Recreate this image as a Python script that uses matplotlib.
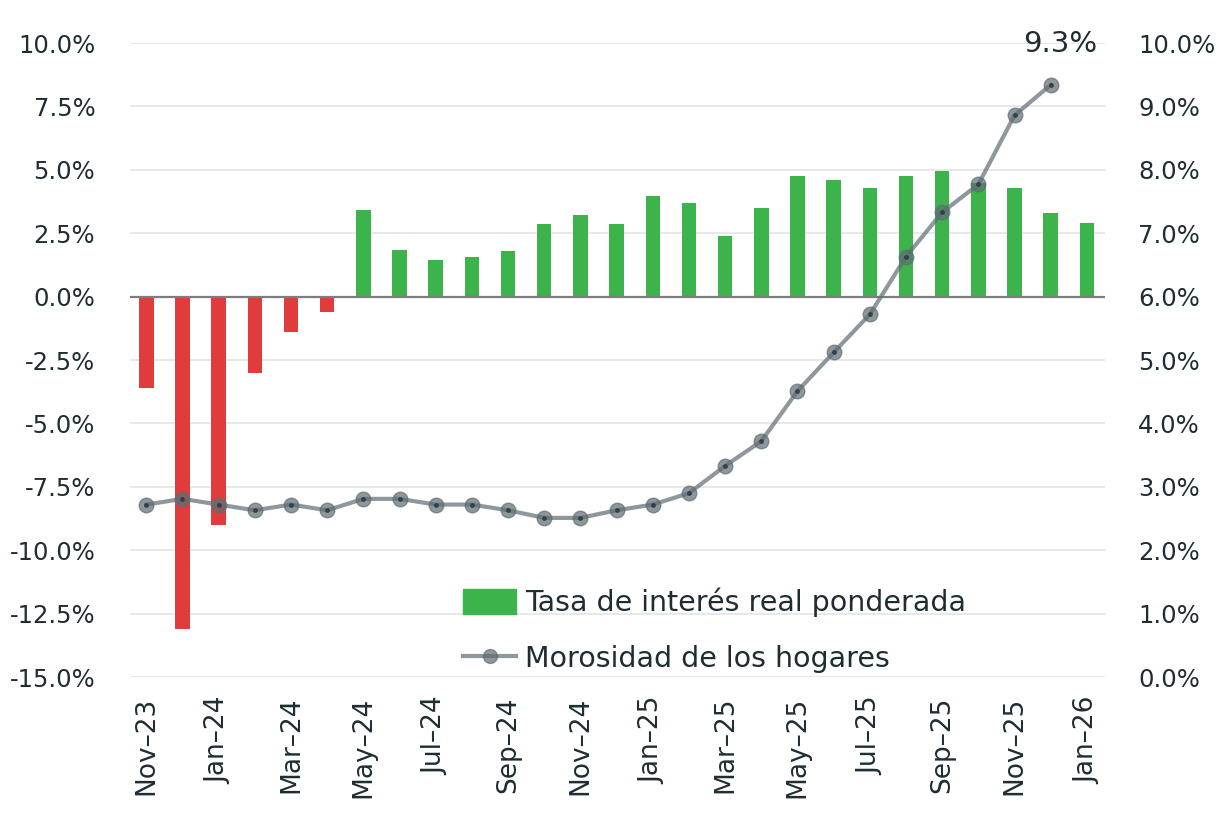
import numpy as np
import matplotlib.pyplot as plt
from matplotlib.lines import Line2D
from matplotlib.patches import Patch

# Monthly series, Nov-23 .. Jan-26
months = ['Nov–23', 'Dec–23', 'Jan–24', 'Feb–24', 'Mar–24', 'Apr–24', 'May–24',
          'Jun–24', 'Jul–24', 'Aug–24', 'Sep–24', 'Oct–24', 'Nov–24', 'Dec–24',
          'Jan–25', 'Feb–25', 'Mar–25', 'Apr–25', 'May–25', 'Jun–25', 'Jul–25',
          'Aug–25', 'Sep–25', 'Oct–25', 'Nov–25', 'Dec–25', 'Jan–26']

# Tasa de interés real ponderada (%), left axis
tasa_real = [-3.6, -13.1, -9.0, -3.0, -1.4, -0.6, 3.4, 1.85, 1.45, 1.55, 1.8,
             2.85, 3.2, 2.85, 3.95, 3.7, 2.4, 3.5, 4.75, 4.6, 4.3, 4.75, 4.95,
             4.5, 4.3, 3.3, 2.9]

# Morosidad de los hogares (%), right axis (no data for Jan-26)
morosidad = [2.72, 2.81, 2.72, 2.63, 2.72, 2.63, 2.81, 2.81, 2.72, 2.72, 2.63,
             2.51, 2.51, 2.63, 2.72, 2.9, 3.33, 3.72, 4.51, 5.12, 5.72, 6.63,
             7.33, 7.77, 8.86, 9.34]

RED = '#e03c3c'
GREEN = '#3cb44b'
GREY = '#5f6d73'
TEXT = '#1f2d33'

plt.rcParams['font.family'] = ['DejaVu Sans']

fig = plt.figure(figsize=(12.23, 8.15), dpi=100)
ax = fig.add_axes([0.1063, 0.1693, 0.7972, 0.7779])
ax2 = ax.twinx()

x = np.arange(len(months))
colors = [RED if v < 0 else GREEN for v in tasa_real]
ax.bar(x, tasa_real, width=0.4, color=colors, zorder=2)
ax.axhline(0, color='#7d7d7d', lw=1.6, zorder=3)

ax.set_ylim(-15, 10)
ax.set_yticks(np.arange(-15, 10.1, 2.5))
ax.set_yticklabels([f'{v:.1f}%' for v in np.arange(-15, 10.1, 2.5)])
ax.grid(axis='y', color='#e6e6e6', lw=1.3, zorder=0)
ax.set_axisbelow(True)
ax.set_xlim(-0.45, 26.5)
ax.set_xticks(x[::2])
ax.set_xticklabels(months[::2], rotation=90)

xm = x[:len(morosidad)]
ax2.plot(xm, morosidad, color=GREY, alpha=0.7, lw=3, marker='o', ms=10.5,
         zorder=4)
ax2.plot(xm, morosidad, ls='none', marker='o', ms=2.5, color='#2b3a40',
         alpha=0.8, zorder=5)
ax2.set_ylim(0, 10)
ax2.set_yticks(np.arange(0, 10.1, 1))
ax2.set_yticklabels([f'{v:.1f}%' for v in np.arange(0, 10.1, 1)])
ax2.annotate(f'{morosidad[-1]:.1f}%', (xm[-1], morosidad[-1]),
             xytext=(7, 19), textcoords='offset points', ha='center',
             va='bottom', color=TEXT, fontsize=21)

for a in (ax, ax2):
    for s in a.spines.values():
        s.set_visible(False)
    a.tick_params(length=0, colors=TEXT, labelsize=17.5)
ax.tick_params(axis='y', pad=25)
ax.tick_params(axis='x', pad=14, labelsize=19)
ax2.tick_params(axis='y', pad=24)

handles = [Patch(color=GREEN, label='Tasa de interés real ponderada'),
           Line2D([], [], color=GREY, alpha=0.7, lw=3, marker='o', ms=10,
                  label='Morosidad de los hogares')]
fig.legend(handles=handles, loc='upper left', bbox_to_anchor=(0.358, 0.31),
           frameon=False, fontsize=20.5, labelcolor=TEXT, handlelength=1.85,
           handleheight=1.0, handletextpad=0.3, labelspacing=0.95)

fig.savefig('out.png', dpi=100)
